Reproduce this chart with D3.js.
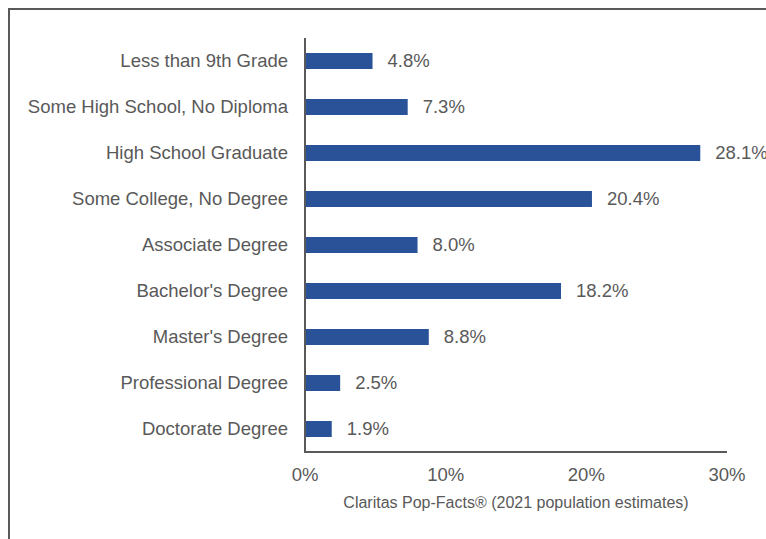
<!DOCTYPE html>
<html>
<head>
<style>
  body { margin: 0; background: #fff; }
  text { font-family: "Liberation Sans", Arial, sans-serif; fill: #595959; }
</style>
</head>
<body>
<svg width="766" height="539"></svg>
<script src="https://d3js.org/d3.v7.min.js"></script>
<script>
var categories = ["Less than 9th Grade", "Some High School, No Diploma", "High School Graduate",
  "Some College, No Degree", "Associate Degree", "Bachelor's Degree", "Master's Degree",
  "Professional Degree", "Doctorate Degree"];
var values = [4.8, 7.3, 28.1, 20.4, 8.0, 18.2, 8.8, 2.5, 1.9];
var xTicks = [0, 10, 20, 30];
var sourceNote = "Claritas Pop-Facts\u00ae (2021 population estimates)";

var svg = d3.select("svg");

// frame (only top and left edges visible)
svg.append("path")
  .attr("d", "M9,545V9H780")
  .attr("fill", "none")
  .attr("stroke", "#595959")
  .attr("stroke-width", 2);

var x = d3.scaleLinear().domain([0, 30]).range([305, 727]);
var y = d3.scaleBand().domain(categories).range([38, 452]).paddingInner(0.652).paddingOuter(0.326);

svg.selectAll("rect.bar")
  .data(values)
  .enter().append("rect")
  .attr("class", "bar")
  .attr("x", x(0))
  .attr("y", function (d, i) { return y(categories[i]); })
  .attr("width", function (d) { return x(d) - x(0); })
  .attr("height", y.bandwidth())
  .attr("fill", "#2A5298");

svg.selectAll("text.val")
  .data(values)
  .enter().append("text")
  .attr("class", "val")
  .attr("x", function (d) { return x(d) + 15; })
  .attr("y", function (d, i) { return y(categories[i]) + y.bandwidth() / 2; })
  .attr("dy", "0.35em")
  .attr("font-size", 18.5)
  .text(function (d) { return d.toFixed(1) + "%"; });

svg.selectAll("text.cat")
  .data(categories)
  .enter().append("text")
  .attr("class", "cat")
  .attr("x", 288)
  .attr("y", function (d) { return y(d) + y.bandwidth() / 2; })
  .attr("dy", "0.35em")
  .attr("text-anchor", "end")
  .attr("font-size", 18.5)
  .text(function (d) { return d; });

// axes lines
svg.append("line")
  .attr("x1", x(0)).attr("x2", x(0)).attr("y1", 38).attr("y2", 453)
  .attr("stroke", "#595959").attr("stroke-width", 2);
svg.append("line")
  .attr("x1", x(0) - 1).attr("x2", x(30)).attr("y1", 452).attr("y2", 452)
  .attr("stroke", "#595959").attr("stroke-width", 2);

svg.selectAll("text.tick")
  .data(xTicks)
  .enter().append("text")
  .attr("class", "tick")
  .attr("x", function (d) { return x(d); })
  .attr("y", 481)
  .attr("text-anchor", "middle")
  .attr("font-size", 18.5)
  .text(function (d) { return d + "%"; });

svg.append("text")
  .attr("x", 516)
  .attr("y", 508)
  .attr("text-anchor", "middle")
  .attr("font-size", 16)
  .text(sourceNote);
</script>
</body>
</html>
